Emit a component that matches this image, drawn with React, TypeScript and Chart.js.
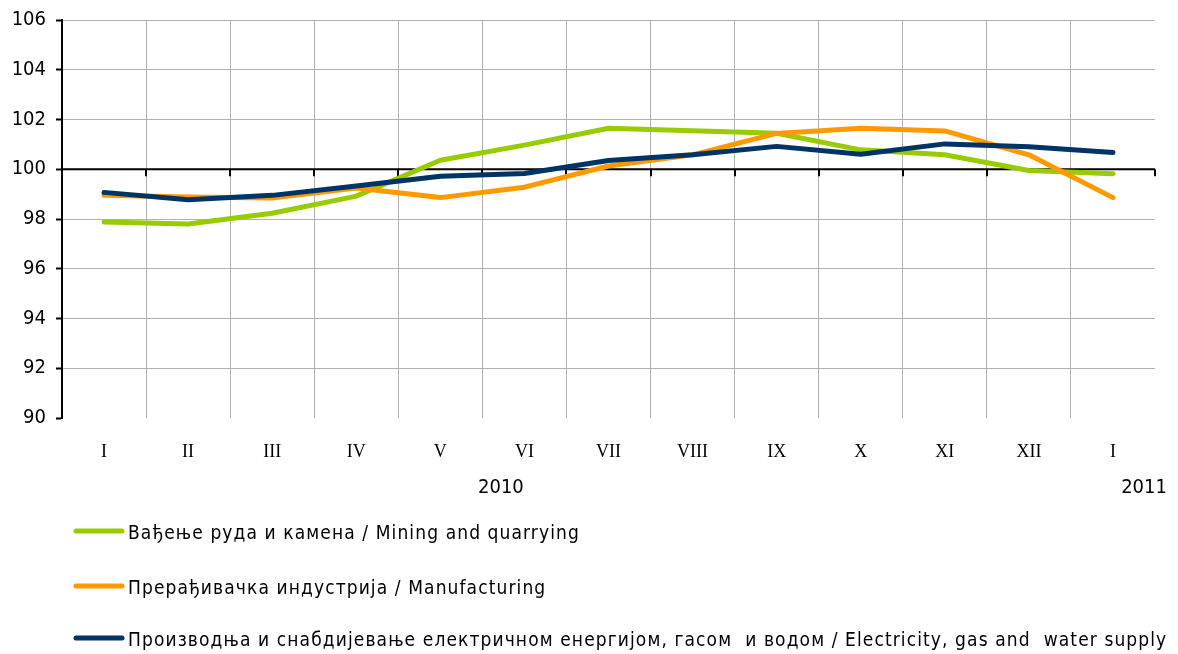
import React, { useEffect, useRef } from "react";
import { Chart, registerables } from "chart.js";

Chart.register(...registerables);

const categories = ["I", "II", "III", "IV", "V", "VI", "VII", "VIII", "IX", "X", "XI", "XII", "I"];
const mining = [97.88, 97.8, 98.23, 98.92, 100.36, 100.97, 101.65, 101.55, 101.45, 100.78, 100.58, 99.95, 99.82];
const manufacturing = [98.95, 98.88, 98.84, 99.25, 98.86, 99.28, 100.13, 100.58, 101.44, 101.65, 101.54, 100.58, 98.86];
const electricity = [99.07, 98.77, 98.95, 99.33, 99.72, 99.83, 100.35, 100.58, 100.92, 100.6, 101.02, 100.9, 100.67];
const seriesNames = [
  "Вађење руда и камена / Mining and quarrying",
  "Прерађивачка индустрија / Manufacturing",
  "Производња и снабдијевање електричном енергијом, гасом  и водом / Electricity, gas and  water supply",
];
const seriesColors = ["#99CC00", "#FF9900", "#003366"];
const yearLabels = ["2010", "2011"];
const yearPositions = [4.72, 12.37];

const SANS = '"DejaVu Sans Condensed", "DejaVu Sans", sans-serif';

const extras = {
  id: "extras",
  beforeDatasetsDraw(chart: any) {
    const { ctx, chartArea } = chart;
    const y = chart.scales.y;
    const y100 = y.getPixelForValue(100);
    ctx.save();
    ctx.strokeStyle = "#000";
    ctx.lineWidth = 2;
    ctx.beginPath();
    ctx.moveTo(chartArea.left, y100);
    ctx.lineTo(chartArea.right, y100);
    const n = categories.length;
    const w = (chartArea.right - chartArea.left) / n;
    for (let i = 0; i <= n; i++) {
      const px = Math.round(chartArea.left + i * w);
      ctx.moveTo(px, y100);
      ctx.lineTo(px, y100 + 7);
    }
    ctx.stroke();
    ctx.restore();
  },
  afterDraw(chart: any) {
    const { ctx, chartArea } = chart;
    const n = categories.length;
    const w = (chartArea.right - chartArea.left) / n;
    ctx.save();
    ctx.fillStyle = "#000";
    ctx.font = "20px " + SANS;
    ctx.textAlign = "center";
    ctx.textBaseline = "middle";
    yearLabels.forEach((t, i) => {
      ctx.fillText(t, chartArea.left + (yearPositions[i] + 0.5) * w, 488);
    });
    // legend
    const rows = [531, 586, 638];
    ctx.textAlign = "left";
    ctx.lineCap = "round";
    seriesNames.forEach((name, i) => {
      ctx.strokeStyle = seriesColors[i];
      ctx.lineWidth = 5;
      ctx.beginPath();
      ctx.moveTo(76, rows[i]);
      ctx.lineTo(122, rows[i]);
      ctx.stroke();
      ctx.font = "19px " + SANS;
      (ctx as any).letterSpacing = "1.1px";
      ctx.fillStyle = "#000";
      ctx.fillText(name, 128, rows[i] + 3);
      (ctx as any).letterSpacing = "0px";
    });
    ctx.restore();
  },
};

export default function App() {
  const ref = useRef<HTMLCanvasElement>(null);
  useEffect(() => {
    if (!ref.current) return;
    const mk = (label: string, data: number[], color: string, order: number) => ({
      label,
      data,
      borderColor: color,
      backgroundColor: color,
      borderWidth: 5,
      pointRadius: 0,
      tension: 0,
      borderCapStyle: "round" as const,
      borderJoinStyle: "round" as const,
      order,
    });
    const chart = new Chart(ref.current, {
      type: "line",
      data: {
        labels: categories,
        datasets: [
          mk(seriesNames[0], mining, seriesColors[0], 2),
          mk(seriesNames[1], manufacturing, seriesColors[1], 1),
          mk(seriesNames[2], electricity, seriesColors[2], 0),
        ],
      },
      options: {
        animation: false,
        responsive: false,
        maintainAspectRatio: false,
        layout: { padding: { left: 0, right: 23, top: 20, bottom: 0 } },
        plugins: { legend: { display: false }, tooltip: { enabled: false } },
        scales: {
          x: {
            offset: true,
            border: { display: false },
            grid: {
              offset: true,
              drawTicks: false,
              color: (c: any) =>
                c.type !== "tick" || c.index === 0 ? "transparent" : "#b0b0b0",
              lineWidth: 1,
            },
            ticks: {
              padding: 23,
              color: "#000",
              font: { family: '"Liberation Serif", serif', size: 18 },
              maxRotation: 0,
              autoSkip: false,
            },
            afterFit: (s: any) => {
              s.height = 654 - 418;
              s.paddingLeft = 0;
              s.paddingRight = 0;
            },
          },
          y: {
            min: 90,
            max: 106,
            border: { display: true, color: "#000", width: 2 },
            grid: {
              color: (c: any) => {
                const v = c.tick ? c.tick.value : 0;
                if (v === 90 || v === 100) return "transparent";
                return "#b0b0b0";
              },
              tickColor: "#000",
              tickLength: 6,
              tickWidth: 2,
              lineWidth: 1,
            },
            ticks: {
              stepSize: 2,
              padding: 10,
              color: "#000",
              font: { family: SANS, size: 20 },
            },
            afterFit: (s: any) => {
              s.width = 62;
              s.paddingTop = 0;
              s.paddingBottom = 0;
            },
          },
        },
      },
      plugins: [extras],
    });
    return () => chart.destroy();
  }, []);
  return (
    <div style={{ position: "absolute", left: 0, top: 0, width: 1178, height: 654, background: "#fff" }}>
      <canvas ref={ref} width={1178} height={654} />
    </div>
  );
}
